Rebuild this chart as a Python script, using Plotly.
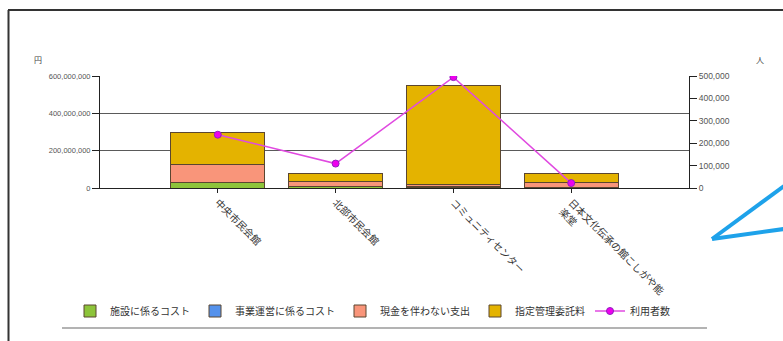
import plotly.graph_objects as go

# Facilities and yearly figures
categories = ["中央市民会館", "北部市民会館", "コミュニティセンター", "日本文化伝承の館こしがや能<br>楽堂"]
facility_cost = [32e6, 6e6, 5e6, 3e6]        # 施設に係るコスト
operation_cost = [0, 3e6, 3e6, 0]            # 事業運営に係るコスト
noncash_cost = [93e6, 25e6, 10e6, 29e6]      # 現金を伴わない支出
management_fee = [175e6, 46e6, 532e6, 45e6]  # 指定管理委託料
users = [238000, 109000, 495000, 22000]      # 利用者数

left_ticks = [0, 200e6, 400e6, 600e6]
right_ticks = [0, 100000, 200000, 300000, 400000, 500000]

W, H = 783, 341
ML, MR, MT, MB = 100, 94, 76, 153
PW, PH = W - ML - MR, H - MT - MB


def px_x(x):
    return (x - ML) / PW


def px_y(y):
    return (H - MB - y) / PH


JP = "Noto Sans CJK JP"
NUM = "Liberation Sans"
edge = dict(color="#5b4630", width=1)

fig = go.Figure()
for name, vals, col in [
    ("施設に係るコスト", facility_cost, "#8dc43a"),
    ("事業運営に係るコスト", operation_cost, "#5592ec"),
    ("現金を伴わない支出", noncash_cost, "#f9957a"),
    ("指定管理委託料", management_fee, "#e4b300"),
]:
    fig.add_trace(go.Bar(x=categories, y=vals, name=name,
                         marker=dict(color=col, line=edge)))

fig.add_trace(go.Scatter(
    x=categories, y=users, name="利用者数", yaxis="y2", mode="lines+markers",
    line=dict(color="#e04ae0", width=1.5),
    marker=dict(size=7, color="#ee00ee", line=dict(color="#9020c0", width=1)),
))

shapes = [
    # outer frame (left and top edges)
    dict(type="line", xref="paper", yref="paper", x0=px_x(8.5), x1=px_x(8.5),
         y0=px_y(10), y1=px_y(341), line=dict(color="#333", width=2)),
    dict(type="line", xref="paper", yref="paper", x0=px_x(8), x1=px_x(783),
         y0=px_y(10), y1=px_y(10), line=dict(color="#333", width=2)),
    # separator under the legend
    dict(type="line", xref="paper", yref="paper", x0=px_x(62), x1=px_x(707),
         y0=px_y(328), y1=px_y(328), line=dict(color="#9a9a9a", width=1.5)),
    # callout pointer
    dict(type="line", xref="paper", yref="paper", x0=px_x(712), x1=px_x(784),
         y0=px_y(239), y1=px_y(186), line=dict(color="#1ea2ea", width=4)),
    dict(type="line", xref="paper", yref="paper", x0=px_x(712), x1=px_x(784),
         y0=px_y(239), y1=px_y(229), line=dict(color="#1ea2ea", width=4)),
]

fig.update_layout(
    width=W, height=H,
    margin=dict(l=ML, r=MR, t=MT, b=MB, autoexpand=False),
    template="none",
    paper_bgcolor="white", plot_bgcolor="white",
    barmode="stack", bargap=0.2,
    showlegend=True,
    legend=dict(orientation="h", x=px_x(70), xanchor="left",
                y=px_y(311), yanchor="middle",
                bgcolor="rgba(0,0,0,0)",
                font=dict(family=JP, size=10, color="#333"),
                traceorder="normal", itemwidth=30),
    xaxis=dict(type="category", range=[-1, 4], showgrid=False,
               showline=True, linecolor="#222", linewidth=1,
               ticks="outside", ticklen=4, tickcolor="#222",
               tickangle=45, automargin=False,
               tickfont=dict(family=JP, size=10, color="#333")),
    yaxis=dict(range=[0, 600e6], tickvals=left_ticks, tickformat=",d",
               showgrid=True, gridcolor="#5a5a5a", gridwidth=1,
               zeroline=False, showline=True, linecolor="#222", linewidth=1,
               ticks="outside", ticklen=7, tickcolor="#222",
               automargin=False,
               tickfont=dict(family=NUM, size=7.5, color="#555")),
    yaxis2=dict(range=[0, 500000], tickvals=right_ticks, tickformat=",d",
                overlaying="y", side="right", showgrid=False, zeroline=False,
                showline=True, linecolor="#222", linewidth=1,
                ticks="outside", ticklen=7, tickcolor="#222",
                automargin=False,
                tickfont=dict(family=NUM, size=8.5, color="#555")),
    shapes=shapes,
    annotations=[
        dict(text="円", xref="paper", yref="paper", x=px_x(38), y=px_y(59),
             xanchor="center", yanchor="middle",
             showarrow=False, font=dict(family=JP, size=8, color="#444")),
        dict(text="人", xref="paper", yref="paper", x=px_x(760), y=px_y(59),
             xanchor="center", yanchor="middle",
             showarrow=False, font=dict(family=JP, size=8, color="#444")),
    ],
)

fig.write_html("out.html")
